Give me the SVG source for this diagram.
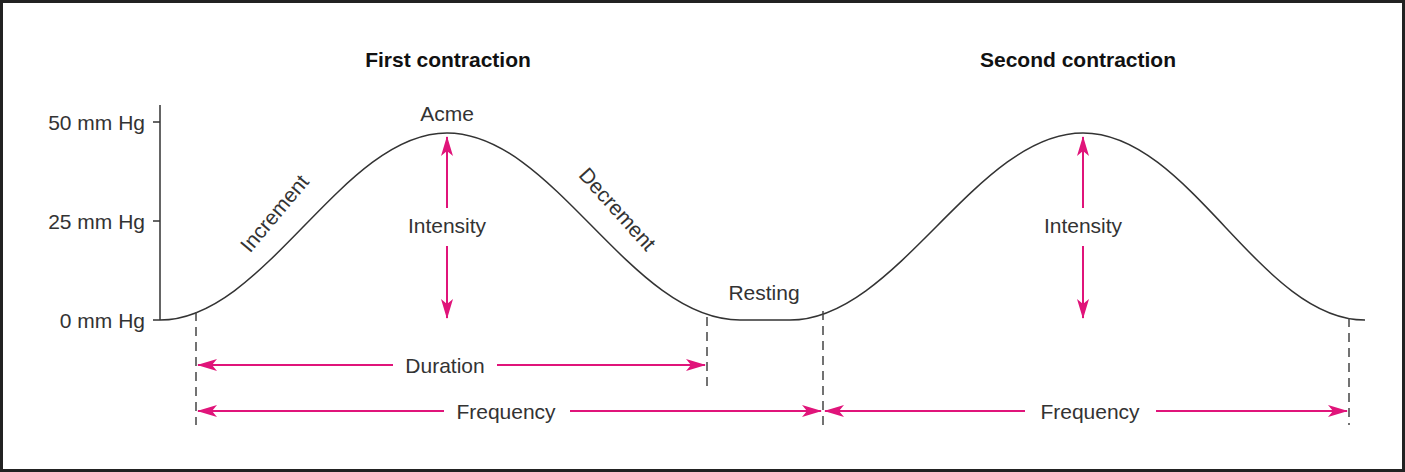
<svg xmlns="http://www.w3.org/2000/svg" width="1405" height="472" viewBox="0 0 1405 472">
<style>
text{font-family:"Liberation Sans",Arial,sans-serif;font-size:21px;fill:#333}
.t{font-weight:bold;fill:#111}
.a{stroke:#e0147a;stroke-width:2;fill:none}
.d{stroke:#444;stroke-width:1.5;stroke-dasharray:9,6}
.k{stroke:#333;stroke-width:1.5;fill:none}
</style>
<defs>
<marker id="ah" viewBox="0 0 20 12" refX="19" refY="6" markerWidth="20" markerHeight="12" markerUnits="userSpaceOnUse" orient="auto-start-reverse">
<path d="M0,0 L20,6 L0,12 L5,6 Z" fill="#e0147a"/>
</marker>
</defs>
<rect x="1.5" y="1.5" width="1402" height="469" fill="#fff" stroke="#222" stroke-width="3"/>
<g id="titles">
<text class="t" x="448" y="67" text-anchor="middle">First contraction</text>
<text class="t" x="1078" y="67" text-anchor="middle">Second contraction</text>
</g>
<g id="axis">
<path class="k" d="M160,105 V320 M153,122 H160 M153,221 H160 M153,320 H160"/>
<text x="145" y="130" text-anchor="end">50 mm Hg</text>
<text x="145" y="229" text-anchor="end">25 mm Hg</text>
<text x="145" y="328" text-anchor="end">0 mm Hg</text>
</g>
<g id="curve">
<path class="k" d="M160,320 C265,320 342,133 447,133 C554,133 630,320 740,320 L790,320 C897,320 976,133 1083,133 C1190,133 1260,320 1365,320"/>
</g>
<g id="labels">
<text x="447" y="121" text-anchor="middle">Acme</text>
<text transform="translate(280,218) rotate(-50)" text-anchor="middle">Increment</text>
<text transform="translate(612,214) rotate(48)" text-anchor="middle">Decrement</text>
<text x="764" y="300" text-anchor="middle">Resting</text>
</g>
<g id="connectors">
<line class="d" x1="196" y1="312" x2="196" y2="425"/>
<line class="d" x1="707" y1="317" x2="707" y2="386"/>
<line class="d" x1="823" y1="311" x2="823" y2="425"/>
<line class="d" x1="1349" y1="318" x2="1349" y2="425"/>
<line class="a" x1="447" y1="208" x2="447" y2="137" marker-end="url(#ah)"/>
<line class="a" x1="447" y1="246" x2="447" y2="318" marker-end="url(#ah)"/>
<line class="a" x1="1083" y1="208" x2="1083" y2="137" marker-end="url(#ah)"/>
<line class="a" x1="1083" y1="246" x2="1083" y2="318" marker-end="url(#ah)"/>
<line class="a" x1="393" y1="365" x2="198" y2="365" marker-end="url(#ah)"/>
<line class="a" x1="497" y1="365" x2="705" y2="365" marker-end="url(#ah)"/>
<line class="a" x1="444" y1="411" x2="198" y2="411" marker-end="url(#ah)"/>
<line class="a" x1="570" y1="411" x2="821" y2="411" marker-end="url(#ah)"/>
<line class="a" x1="1025" y1="411" x2="825" y2="411" marker-end="url(#ah)"/>
<line class="a" x1="1156" y1="411" x2="1347" y2="411" marker-end="url(#ah)"/>
</g>
<g id="measures">
<text x="447" y="233" text-anchor="middle">Intensity</text>
<text x="1083" y="233" text-anchor="middle">Intensity</text>
<text x="445" y="373" text-anchor="middle">Duration</text>
<text x="506" y="419" text-anchor="middle">Frequency</text>
<text x="1090" y="419" text-anchor="middle">Frequency</text>
</g>
</svg>
